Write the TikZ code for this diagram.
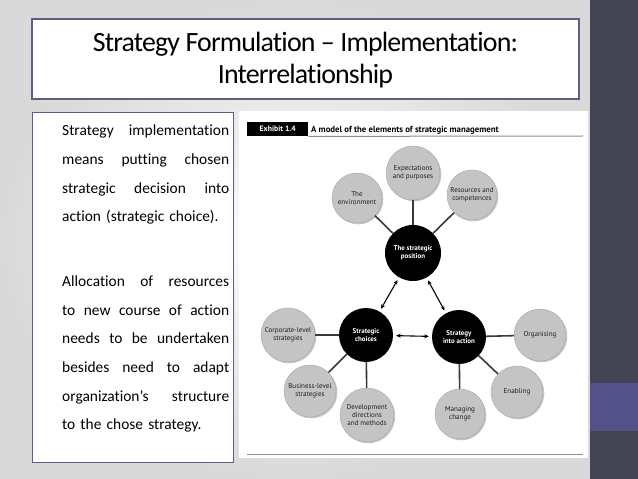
\documentclass[tikz,border=0pt]{standalone}
\usepackage{fontspec}
\setmainfont{Carlito}[Ligatures=NoCommon]
\newfontfamily\lblfont{PT Sans}
\newfontfamily\titlefont{Carlito}[LetterSpace=-3,Ligatures=NoCommon]
\usetikzlibrary{arrows.meta,shadows}
\newcommand{\jline}[1]{\leavevmode\hbox to 167bp{#1}}

\definecolor{band}{HTML}{434354}
\definecolor{strip}{HTML}{535189}
\definecolor{boxline}{HTML}{5F5D88}
\definecolor{disc}{HTML}{C4C4C4}
\definecolor{linkc}{HTML}{3A3A3A}

\begin{document}
\begin{tikzpicture}[x=1bp,y=-1bp,
  outer/.style={circle, fill=disc, draw=black!35, line width=0.4bp, inner sep=0, minimum size=#1, align=center,
    font=\lblfont\fontsize{7.1}{7.9}\selectfont, text=black!88,
    drop shadow={shadow xshift=1.3bp, shadow yshift=-1.3bp, fill=black!45}},
  hub/.style={circle, fill=black, inner sep=0, minimum size=#1, align=center,
    font=\lblfont\bfseries\fontsize{7}{8}\selectfont, text=white},
  link/.style={draw=linkc, line width=1.6bp},
  twoway/.style={{Stealth[length=4.5bp,width=4bp]}-{Stealth[length=4.5bp,width=4bp]}, draw=black, line width=1.1bp, shorten >=3bp, shorten <=3bp},
  frame/.style={draw=boxline, fill=white, line width=1.2bp, inner sep=0},
]
\useasboundingbox (0,0) rectangle (638,479);
% background
\shade[inner color=white, outer color=black!15] (0,0) rectangle (590,479);
\fill[band] (590,0) rectangle (638,479);
\fill[strip] (590,383) rectangle (638,431);

% title
\node[frame, minimum width=547bp, minimum height=80bp] (titlebox) at (305.5,59) {};
\node[anchor=base, font=\titlefont\fontsize{28}{32}\selectfont, inner sep=0] (t1) at (305.5,52) {Strategy Formulation – Implementation:};
\node[anchor=base, font=\titlefont\fontsize{28}{32}\selectfont, inner sep=0] (t2) at (305.5,84) {Interrelationship};

% left text box
\node[frame, minimum width=201bp, minimum height=350bp, anchor=north west] (leftbox) at (32,112) {};
\node[anchor=base west, text width=167bp, inner sep=0, align=left, font=\fontsize{15.5}{28.7}\selectfont] (lefttext) at (62,136) {%
\jline{Strategy\hfill implementation}\\
\jline{means\hfill putting\hfill chosen}\\
\jline{strategic\hfill decision\hfill into}\\
action (strategic choice).\\[36.3bp]
\jline{Allocation\hfill of\hfill resources}\\
\jline{to\hfill new\hfill course\hfill of\hfill action}\\
\jline{needs\hfill to\hfill be\hfill undertaken}\\
\jline{besides\hfill need\hfill to\hfill adapt}\\
\jline{organization’s\hfill structure}\\
to the chose strategy.};

% exhibit panel
\fill[white] (239,111) rectangle (588,458);
\node[fill=black, text=white, font=\lblfont\bfseries\fontsize{7.8}{8}\selectfont, minimum width=61bp, minimum height=14bp, inner sep=0, anchor=north west] (exh) at (247,122) {Exhibit 1.4};
\node[anchor=base west, inner sep=0, font=\lblfont\bfseries\fontsize{8.8}{9}\selectfont] (cap) at (311,132.5) {A model of the elements of strategic management};
\coordinate (capend) at (583,136);
\draw[black!45, line width=1bp] (exh.south east) -- (capend);
\coordinate (b1) at (247,454);
\coordinate (b2) at (583,454);
\draw[black!45, line width=1bp] (b1) -- (b2);

% hubs
\node[hub=56bp] (pos) at (413,253) {The strategic\\position};
\node[hub=54bp] (choice) at (366,335) {Strategic\\choices};
\node[hub=54bp] (action) at (459,337) {Strategy\\into action};

% outer circles
\node[outer=54bp] (expect) at (413,173) {Expectations\\and purposes};
\node[outer=50bp] (env) at (357,198) {The\\environment};
\node[outer=50bp] (res) at (472,195) {Resources and\\competences};
\node[outer=52bp] (org) at (540,335) {Organising};
\node[outer=52bp] (enab) at (517,392) {Enabling};
\node[outer=50bp] (manage) at (460,414) {Managing\\change};
\node[outer=54bp] (corp) at (288,335) {Corporate-level\\strategies};
\node[outer=52bp] (bus) at (310,391) {Business-level\\strategies};
\node[outer=54bp] (dev) at (367,415) {Development\\directions\\and methods};

% links
\draw[link] (expect) -- (pos);
\draw[link] (env) -- (pos);
\draw[link] (res) -- (pos);
\draw[link] (corp) -- (choice);
\draw[link] (bus) -- (choice);
\draw[link] (dev) -- (choice);
\draw[link] (org) -- (action);
\draw[link] (enab) -- (action);
\draw[link] (manage) -- (action);

% two-way arrows
\draw[twoway] (pos) -- (choice);
\draw[twoway] (pos) -- (action);
\draw[twoway] (choice) -- (action);
\end{tikzpicture}
\end{document}
